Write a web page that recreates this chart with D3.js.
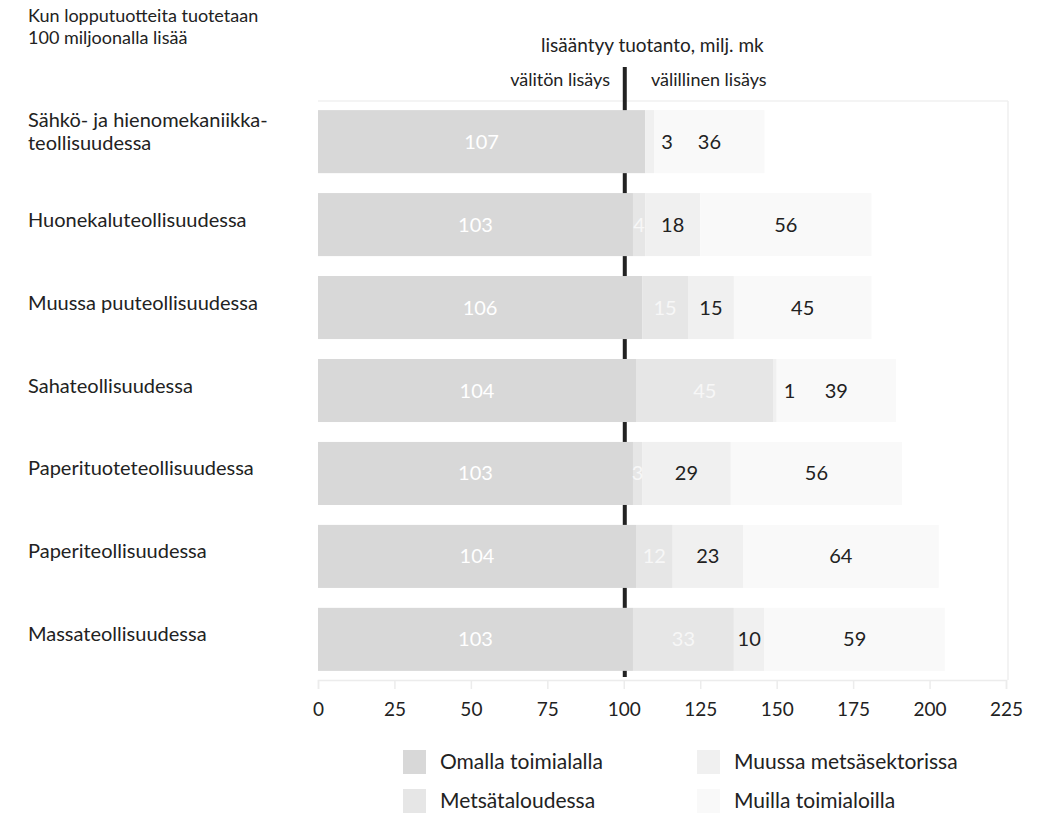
<!DOCTYPE html>
<html>
<head>
<meta charset="utf-8">
<script src="https://cdn.jsdelivr.net/npm/d3@7"></script>
<style>
  body { margin: 0; background: #fff; }
  svg text { font-family: Lato, "Open Sans", sans-serif; fill: #222; }
</style>
</head>
<body>
<div id="chart"></div>
<script>
  // Industries (top to bottom), label split into lines
  var categories = [
    ["Sähkö- ja hienomekaniikka-", "teollisuudessa"],
    ["Huonekaluteollisuudessa"],
    ["Muussa puuteollisuudessa"],
    ["Sahateollisuudessa"],
    ["Paperituoteteollisuudessa"],
    ["Paperiteollisuudessa"],
    ["Massateollisuudessa"]
  ];

  // Series values, milj. mk
  var ownIndustry = [107, 103, 106, 104, 103, 104, 103];
  var forestry = [0, 4, 15, 45, 3, 12, 33];
  var otherForestSector = [3, 18, 15, 1, 29, 23, 10];
  var otherIndustries = [36, 56, 45, 39, 56, 64, 59];

  var seriesNames = ["Omalla toimialalla", "Metsätaloudessa", "Muussa metsäsektorissa", "Muilla toimialoilla"];
  var xTicks = [0, 25, 50, 75, 100, 125, 150, 175, 200, 225];

  var colors = ["#d8d8d8", "#e6e6e6", "#f0f0f0", "#f9f9f9"];
  var labelColors = ["#fff", "#f7f7f7", "#222", "#222"];

  var width = 1037, height = 813;
  var svg = d3.select("#chart").append("svg")
    .attr("width", width)
    .attr("height", height);

  var keys = categories.map(function(d, i) { return i; });
  var rows = keys.map(function(i) {
    return { idx: i, vals: [ownIndustry[i], forestry[i], otherForestSector[i], otherIndustries[i]] };
  });

  var xScale = d3.scaleLinear().domain([0, 225]).range([318, 1006]);
  var yScale = d3.scaleBand().domain(keys).range([101, 680])
    .paddingInner(0.24).paddingOuter(0.11);

  // faint frame
  svg.append("line")
    .attr("x1", xScale(0)).attr("x2", xScale(225) + 2)
    .attr("y1", 101).attr("y2", 101)
    .attr("stroke", "#f0f0f0").attr("stroke-width", 1.5);
  svg.append("line")
    .attr("x1", xScale(225) + 2).attr("x2", xScale(225) + 2)
    .attr("y1", 101).attr("y2", 680)
    .attr("stroke", "#efefef").attr("stroke-width", 1.5);

  // x axis
  var axis = svg.append("g")
    .attr("transform", "translate(0,680)")
    .call(d3.axisBottom(xScale).tickValues(xTicks).tickSize(9).tickPadding(14));
  axis.select(".domain").attr("stroke", "#ececec").attr("stroke-width", 1.5);
  axis.selectAll(".tick line").attr("stroke", "#ececec").attr("stroke-width", 1.5);
  axis.selectAll(".tick text")
    .style("font-family", "Lato, sans-serif")
    .style("font-size", "19px")
    .attr("fill", "#222");

  // thick line at 100 (behind bars)
  svg.append("line")
    .attr("x1", xScale(100) + 1).attr("x2", xScale(100) + 1)
    .attr("y1", 67).attr("y2", 677)
    .attr("stroke", "#222").attr("stroke-width", 4);

  // stacked bars
  var stack = d3.stack().keys([0, 1, 2, 3]).value(function(d, k) { return d.vals[k]; });
  var layers = stack(rows);

  svg.append("g").selectAll("g")
    .data(layers)
    .enter().append("g")
    .attr("fill", function(d) { return colors[d.key]; })
    .selectAll("rect")
    .data(function(d) { return d; })
    .enter().append("rect")
    .attr("x", function(d) { return xScale(d[0]); })
    .attr("y", function(d) { return yScale(d.data.idx); })
    .attr("width", function(d) { return xScale(d[1]) - xScale(d[0]); })
    .attr("height", yScale.bandwidth());

  // value labels
  layers.forEach(function(layer) {
    layer.forEach(function(d) {
      var v = d[1] - d[0];
      if (v <= 0) return;
      var cy = yScale(d.data.idx) + yScale.bandwidth() / 2;
      var outside = layer.key === 2 && v < 5;
      svg.append("text")
        .attr("x", outside ? xScale(d[1]) + 7 : xScale((d[0] + d[1]) / 2))
        .attr("y", cy + 7)
        .attr("text-anchor", outside ? "start" : "middle")
        .style("font-size", "20px")
        .style("fill", labelColors[layer.key])
        .text(v);
    });
  });

  // category labels
  categories.forEach(function(lines, i) {
    var cy = yScale(i) + yScale.bandwidth() / 2;
    var t = svg.append("text")
      .attr("x", 28)
      .style("font-size", "20px");
    lines.forEach(function(line, j) {
      var y = cy + 2 - (lines.length - 1) * 17 + j * 23;
      t.append("tspan").attr("x", 28).attr("y", y).text(line);
    });
  });

  // header texts
  svg.append("text").attr("x", 28).attr("y", 22).style("font-size", "18px")
    .text("Kun lopputuotteita tuotetaan");
  svg.append("text").attr("x", 28).attr("y", 44).style("font-size", "18px")
    .text("100 miljoonalla lisää");
  svg.append("text").attr("x", 541).attr("y", 52).style("font-size", "19px")
    .text("lisääntyy tuotanto, milj. mk");
  svg.append("text").attr("x", 610).attr("y", 86).attr("text-anchor", "end").style("font-size", "18px")
    .text("välitön lisäys");
  svg.append("text").attr("x", 651).attr("y", 86).style("font-size", "18px")
    .text("välillinen lisäys");

  // legend
  var legendPos = [[403, 750], [403, 789], [697, 750], [697, 789]];
  seriesNames.forEach(function(name, i) {
    var p = legendPos[i];
    svg.append("rect")
      .attr("x", p[0]).attr("y", p[1])
      .attr("width", 23).attr("height", 24)
      .attr("fill", colors[i]);
    svg.append("text")
      .attr("x", p[0] + 37).attr("y", p[1] + 19)
      .style("font-size", "21px")
      .text(name);
  });
</script>
</body>
</html>
